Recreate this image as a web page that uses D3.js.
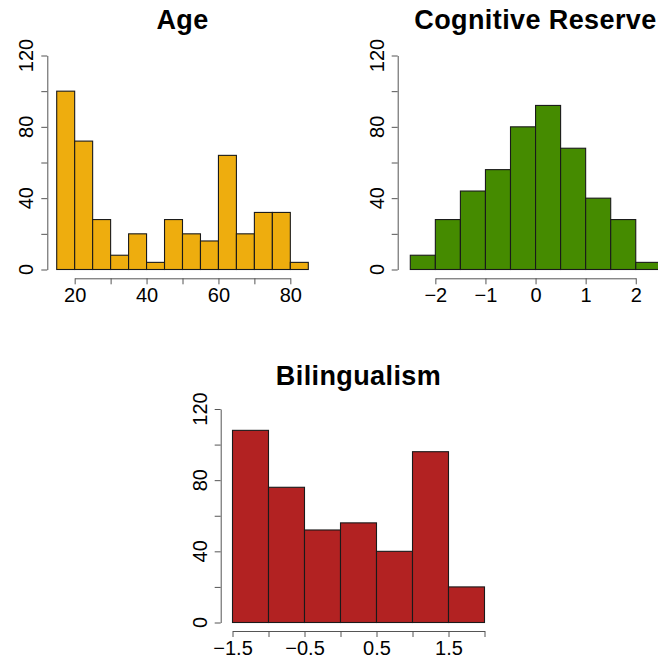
<!DOCTYPE html>
<html>
<head>
<meta charset="utf-8">
<script src="https://cdn.jsdelivr.net/npm/d3@7"></script>
<style>
  html, body { margin: 0; padding: 0; background: #fff; }
  svg { display: block; }
  text { font-family: "Liberation Sans", Arial, Helvetica, sans-serif; fill: #000; }
</style>
</head>
<body>
<svg id="chart" width="658" height="662"></svg>
<script>
// ---- data ----
const ageBreaks = [15, 20, 25, 30, 35, 40, 45, 50, 55, 60, 65, 70, 75, 80, 85];
const ageCounts = [100, 72, 28, 8, 20, 4, 28, 20, 16, 64, 20, 32, 32, 4];
const ageTicks = [20, 30, 40, 50, 60, 70, 80];
const ageTickLabels = [20, 40, 60, 80];

const cogBreaks = [-2.5, -2, -1.5, -1, -0.5, 0, 0.5, 1, 1.5, 2, 2.5];
const cogCounts = [8, 28, 44, 56, 80, 92, 68, 40, 28, 4];
const cogTicks = [-2, -1, 0, 1, 2];
const cogTickLabels = [-2, -1, 0, 1, 2];

const bilBreaks = [-1.5, -1, -0.5, 0, 0.5, 1, 1.5, 2];
const bilCounts = [108, 76, 52, 56, 40, 96, 20];
const bilTicks = [-1.5, -1, -0.5, 0, 0.5, 1, 1.5, 2];
const bilTickLabels = [-1.5, -0.5, 0.5, 1.5];

const yTicks = [0, 20, 40, 60, 80, 100, 120];
const yTickLabels = [0, 40, 80, 120];

const titles = ["Age", "Cognitive Reserve", "Bilingualism"];
const colors = ["#EEAD0E", "#458B00", "#B22222"];

// ---- layout ----
const panels = [
  { title: titles[0], breaks: ageBreaks, counts: ageCounts, ticks: ageTicks, labels: ageTickLabels, color: colors[0],
    xr: [56.7, 308.3], yr: [269.5, 55.5], axisX: 47.3, axisY: 278.3, titleX: 182.5, titleY: 29 },
  { title: titles[1], breaks: cogBreaks, counts: cogCounts, ticks: cogTicks, labels: cogTickLabels, color: colors[1],
    xr: [410.3, 660.8], yr: [269.5, 55.5], axisX: 397.7, axisY: 278.3, titleX: 535.5, titleY: 29 },
  { title: titles[2], breaks: bilBreaks, counts: bilCounts, ticks: bilTicks, labels: bilTickLabels, color: colors[2],
    xr: [232.5, 484.5], yr: [622.5, 409], axisX: 220.7, axisY: 631, titleX: 358.5, titleY: 385 }
];

const svg = d3.select("#chart");
const fmt = v => (v < 0 ? "\u2212" + Math.abs(v) : String(v));
const axisColor = "#555";

panels.forEach(p => {
  const g = svg.append("g");
  const x = d3.scaleLinear().domain([p.breaks[0], p.breaks[p.breaks.length - 1]]).range(p.xr);
  const y = d3.scaleLinear().domain([0, 120]).range(p.yr);

  const bins = p.counts.map((c, i) => ({ x0: p.breaks[i], x1: p.breaks[i + 1], c }));

  g.selectAll("rect.bar").data(bins).enter().append("rect")
    .attr("class", "bar")
    .attr("x", d => x(d.x0))
    .attr("y", d => y(d.c))
    .attr("width", d => x(d.x1) - x(d.x0))
    .attr("height", d => y(0) - y(d.c))
    .attr("fill", p.color)
    .attr("stroke", "#1a1a1a")
    .attr("stroke-width", 1.1);

  // x axis (spans first to last tick)
  const t0 = p.ticks[0], t1 = p.ticks[p.ticks.length - 1];
  const xa = x.copy().domain([t0, t1]).range([x(t0), x(t1)]);
  const xAxis = d3.axisBottom(xa).tickValues(p.ticks).tickSize(6).tickSizeOuter(0)
    .tickFormat(v => (p.labels.some(l => Math.abs(l - v) < 1e-9) ? fmt(v) : ""));
  const gx = g.append("g").attr("transform", `translate(0,${p.axisY})`).call(xAxis);
  gx.selectAll("path, line").attr("stroke", axisColor).attr("stroke-width", 1);
  gx.selectAll("text").attr("font-size", 20).attr("font-family", '"Liberation Sans", Arial, sans-serif')
    .attr("fill", "#222").attr("y", 23.5).attr("dy", 0);

  // y axis
  const yAxis = d3.axisLeft(y).tickValues(yTicks).tickSize(6).tickSizeOuter(0).tickFormat("");
  const gy = g.append("g").attr("transform", `translate(${p.axisX},0)`).call(yAxis);
  gy.selectAll("path, line").attr("stroke", axisColor).attr("stroke-width", 1);
  gy.selectAll("text.ylab").data(yTickLabels).enter().append("text")
    .attr("class", "ylab")
    .attr("transform", d => `translate(-14,${y(d)}) rotate(-90)`)
    .attr("text-anchor", "middle")
    .attr("font-size", 20)
    .attr("fill", "#222")
    .text(d => fmt(d));

  g.append("text")
    .attr("x", p.titleX).attr("y", p.titleY)
    .attr("text-anchor", "middle")
    .attr("font-size", 27).attr("font-weight", "bold")
    .attr("letter-spacing", 0.4)
    .text(p.title);
});
</script>
</body>
</html>
